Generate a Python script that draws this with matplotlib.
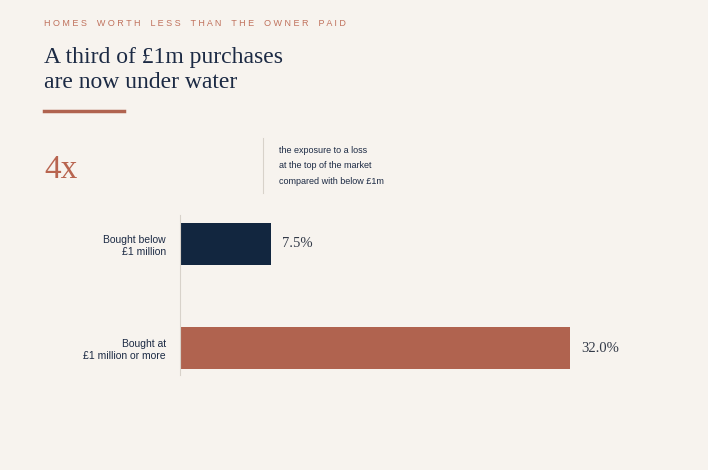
import matplotlib.pyplot as plt

categories = ["Bought below\n£1 million", "Bought at\n£1 million or more"]
values = [7.5, 32.0]
colors = ["#12263f", "#b0634f"]
value_labels = ["7.5%", "32.0%"]

bg = "#f7f3ee"
fig = plt.figure(figsize=(7.08, 4.70), dpi=100, facecolor=bg)

W, H = 708, 470
# axes: x 180..650 px, y 215..375 px
ax = fig.add_axes([180 / W, 1 - 375 / H, 470 / W, 160 / H], facecolor=bg)
ypos = [0, 1]
ax.barh(ypos, values, height=42 / 104, color=colors)
ax.set_xlim(0, 470 / 390 * 32)
ax.set_ylim(1 + 27 / 104, -29 / 104)
for s in ["top", "right", "bottom"]:
    ax.spines[s].set_visible(False)
ax.spines["left"].set_color("#d8d2ca")
ax.set_xticks([])
ax.set_yticks(ypos)
ax.set_yticklabels(categories, fontsize=7.5, color="#1c2a44", family="Liberation Sans")
ax.tick_params(axis="y", length=0, pad=10)
for y, v, lab in zip(ypos, values, value_labels):
    ax.text(v + 0.9, y, lab, va="center", ha="left", fontsize=10.5,
            color="#333a48", family="Liberation Serif")

title = "HOMES WORTH LESS THAN THE OWNER PAID"
fig.text(44 / W, 1 - 24 / H, " ".join(title).replace("   ", "    "),
         fontsize=6.5, color="#c0715c", va="center", family="Liberation Sans")
fig.text(44 / W, 1 - 57 / H, "A third of £1m purchases", fontsize=17,
         color="#1c2a44", va="center", family="Liberation Serif")
fig.text(44 / W, 1 - 82 / H, "are now under water", fontsize=17,
         color="#1c2a44", va="center", family="Liberation Serif")
fig.add_artist(plt.Line2D([44 / W, 124 / W], [1 - 111 / H] * 2, color="#b0634f", lw=2.5))
fig.text(44 / W, 1 - 170 / H, "4x", fontsize=24, color="#b8644f",
         va="center", family="Liberation Serif")
fig.add_artist(plt.Line2D([263 / W, 263 / W], [1 - 138 / H, 1 - 193 / H], color="#d8d2ca", lw=0.8))
fig.text(279 / W, 1 - 166 / H,
         "the exposure to a loss\nat the top of the market\ncompared with below £1m",
         fontsize=6.5, color="#1c2a44", va="center", linespacing=1.9, family="Liberation Sans")

fig.savefig("out.png", dpi=100, facecolor=bg)
